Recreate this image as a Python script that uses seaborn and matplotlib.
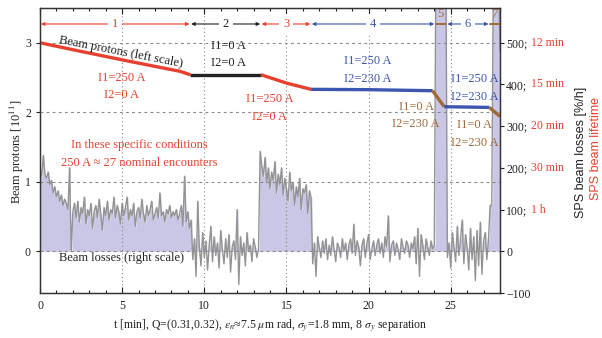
# Beam protons and SPS beam losses during the wire compensation test
import matplotlib
matplotlib.use("Agg")
import matplotlib.pyplot as plt
from matplotlib.ticker import MultipleLocator
import numpy as np
import pandas as pd
import seaborn as sns

# SPS beam losses [%/h], one value every 0.1 min, per segment
loss_seg1 = [195, 180, 230, 185, 175, 190, 160, 170, 140, 155,
             130, 145, 120, 135, 110, 125, 115, 100, 200, 0,
             95, 115, 80, 120, 70, 105, 90, 130, 65, 100,
             85, 115, 55, 95, 110, 80, 125, 90, 50, 105,
             85, 120, 75, 100, 90, 130, 80, 110, 95, 65,
             115, 85, 105, 130, 75, 100, 85, 115, 60, 95,
             105, 80, 125, 90, 70, 110, 85, 100, 120, 75,
             90, 105, 80, 140, 85, 95, 70, 100, 90, 110,
             80, 95, 85, 100, 75, 90, 110, 60, 180, 70,
             95, 55, 75]
loss_seg2 = [-20, 30, -60, 120, 10, -35, 45, -15, 25, -45,
             15, 60, -25, 35, -10, 20, -40, 50, 5, -30,
             30, -15, 40, -50, 10, 25, -20, 100, -80, 35,
             -10, 20, -35, 45, 0, 15, -25, 30, 10, -15,
             5]
loss_seg3 = [240, 205, 180, 225, 165, 200, 150, 190, 170, 215,
             140, 185, 160, 200, 135, 175, 150, 120, 190, 145,
             165, 110, 155, 130, 175, 100, 150, 140, 160, 90,
             145, 130]
loss_seg4 = [-30, 20, -60, 35, 10, -15, 25, -5, 30, -20,
             15, -10, 35, 5, -25, 20, 10, -15, 30, 0,
             20, -20, 15, 30, -5, 65, -10, 25, 10, -35,
             15, 30, -15, 20, 40, -20, 5, 25, -10, 15,
             30, -5, 20, -15, 35, 10, 85, -25, 15, 25,
             -10, 20, 5, -20, 30, 10, -5, 25, 15, -15,
             20, 5, 35, -30, 55, -60, 40, 15, -20, 30,
             10, -10, 25, 5, 15]
loss_seg5 = [700, 700, 700, 700, 700, 700, 700]
loss_seg6 = [-15, 20, -40, 45, 10, -25, 60, -10, 30, 75,
             -30, 40, 10, -45, 55, -20, 35, -70, 50, -35,
             70, -55, 25, 45, -20, 30]
loss_seg7 = [110, 110, 700, 700, 700, 700, 480]

# beam protons [1e11], per segment
prot_t1 = [0, 2.4, 5.5, 8.5, 9.15]
prot_v1 = [3.0, 2.88, 2.73, 2.59, 2.54]
prot_t2 = [9.15, 13.45]
prot_v2 = [2.54, 2.54]
prot_t3 = [13.45, 15.0, 16.5]
prot_v3 = [2.54, 2.42, 2.33]
prot_t4 = [16.5, 20.0, 23.9]
prot_v4 = [2.33, 2.325, 2.31]
prot_t5 = [23.9, 24.6]
prot_v5 = [2.31, 2.08]
prot_t6 = [24.6, 27.35]
prot_v6 = [2.08, 2.07]
prot_t7 = [27.35, 28.0]
prot_v7 = [2.07, 1.94]

seg_start = [0, 9.15, 13.45, 16.5, 24.05, 24.75, 27.35]
seg_end = [9.15, 13.45, 16.5, 24.05, 24.75, 27.35, 28.0]
seg_label = ["1", "2", "3", "4", "5", "6", "7"]

right_ticks = [-100, 0, 100, 200, 300, 400, 500]
right_labels = ["\u2212100", "0", "100;", "200;", "300;", "400;", "500;"]
lifetime_labels = ["", "", "1 h", "30 min", "20 min", "15 min", "12 min"]

RED = "#e8402f"
BLUE = "#3c56b0"
BROWN = "#a0693a"
BLACK = "#222222"
LAV = "#c9c7e5"
GRAY = "#939393"
seg_color = [RED, BLACK, RED, BLUE, BROWN, BLUE, BROWN]

sns.set_style("ticks")
plt.rcParams["font.family"] = ["Liberation Serif", "DejaVu Serif"]
plt.rcParams["mathtext.fontset"] = "stix"

loss = np.array(loss_seg1 + loss_seg2 + loss_seg3 + loss_seg4
                + loss_seg5 + loss_seg6 + loss_seg7, dtype=float)
t_loss = np.arange(len(loss)) * 0.1
loss_df = pd.DataFrame({"t": t_loss, "loss": loss})

fig = plt.figure(figsize=(6.02, 3.38), dpi=100)
ax = fig.add_axes([40 / 602, 45 / 338, 460 / 602, 285 / 338])
ax2 = ax.twinx()

# losses on the right scale
ax2.fill_between(t_loss, 0, np.clip(loss, 0, None), step="mid", color=LAV, lw=0)
sns.lineplot(data=loss_df, x="t", y="loss", ax=ax2, color=GRAY, lw=1.0)

# protons on the left scale, drawn above
ax.set_zorder(ax2.get_zorder() + 1)
ax.patch.set_visible(False)
prot = [(prot_t1, prot_v1, RED), (prot_t2, prot_v2, BLACK), (prot_t3, prot_v3, RED),
        (prot_t4, prot_v4, BLUE), (prot_t5, prot_v5, BROWN), (prot_t6, prot_v6, BLUE),
        (prot_t7, prot_v7, BROWN)]
for tt, vv, c in prot:
    sns.lineplot(x=tt, y=vv, ax=ax, color=c, lw=2.4, solid_capstyle="butt")

ax.set_xlim(0, 28)
ax.set_ylim(-0.6, 3.5)
ax2.set_ylim(-100, 3.5 * 500 / 3)

# grid
for x in [5, 10, 15, 20, 25]:
    ax.axvline(x, color="#888888", lw=0.8, ls=(0, (1, 2.5)), zorder=0.5)
for y in [0, 1, 2, 3]:
    ax.axhline(y, color="#888888", lw=0.8, ls=(0, (2.5, 3)), zorder=0.5)

# segment arrows
for s, e, lab, c in zip(seg_start, seg_end, seg_label, seg_color):
    if e - s > 1:
        ax.annotate("", xy=(e - 0.05, 3.27), xytext=(s + 0.05, 3.27),
                    arrowprops=dict(arrowstyle="<|-|>", color=c, lw=0.8,
                                    mutation_scale=5, shrinkA=0, shrinkB=0))
        ax.text((s + e) / 2, 3.27, lab, color=c, fontsize=9, ha="center", va="center",
                bbox=dict(boxstyle="square,pad=0.3", fc="white", ec="none"))
    else:
        ax.plot([s + 0.05, e - 0.05], [3.27, 3.27], color=c, lw=1.4)
        ax.text((s + e) / 2, 3.42, lab, color=c, fontsize=9, ha="center", va="center")

fs = 9
ax.text(4.9, 2.86, "Beam protons (left scale)", rotation=-11, fontsize=fs,
        ha="center", va="center", color=BLACK)
ax.text(4.97, 2.37, "I1=250 A\nI2=0 A", color=RED, fontsize=fs, ha="center",
        va="center", linespacing=1.6)
ax.text(11.5, 2.83, "I1=0 A\nI2=0 A", color=BLACK, fontsize=fs, ha="center",
        va="center", linespacing=1.6)
ax.text(14.0, 2.06, "I1=250 A\nI2=0 A", color=RED, fontsize=fs, ha="center",
        va="center", linespacing=1.6)
ax.text(6.05, 1.40, "In these specific conditions\n250 A \u2248 27 nominal encounters",
        color=RED, fontsize=fs, ha="center", va="center", linespacing=1.6)
ax.text(19.95, 2.61, "I1=250 A\nI2=230 A", color=BLUE, fontsize=fs, ha="center",
        va="center", linespacing=1.6)
ax.text(22.9, 1.95, "I1=0 A\nI2=230 A", color=BROWN, fontsize=fs, ha="center",
        va="center", linespacing=1.6)
ax.text(26.45, 2.35, "I1=250 A\nI2=230 A", color=BLUE, fontsize=fs, ha="center",
        va="center", linespacing=1.6)
ax.text(26.45, 1.69, "I1=0 A\nI2=230 A", color=BROWN, fontsize=fs, ha="center",
        va="center", linespacing=1.6)
ax.text(4.97, -0.09, "Beam losses (right scale)", color=BLACK, fontsize=fs,
        ha="center", va="center")

# ticks
ax.set_xticks([0, 5, 10, 15, 20, 25])
ax.xaxis.set_minor_locator(MultipleLocator(1))
ax.set_yticks([0, 1, 2, 3])
ax.tick_params(axis="x", which="both", direction="in", top=True, bottom=True,
               labelsize=8.5, colors=BLACK, pad=5)
ax.tick_params(axis="x", which="major", length=4, width=0.8)
ax.tick_params(axis="x", which="minor", length=2.5, width=0.8)
ax.tick_params(axis="y", direction="out", length=3, width=0.8, labelsize=8.5,
               colors=BLACK, right=False)
ax2.set_yticks(right_ticks)
ax2.set_yticklabels(right_labels)
ax2.tick_params(axis="y", direction="out", length=3, width=0.8, labelsize=8.5,
                colors=BLACK, pad=1.5)
ax2.set_ylabel("")
ax.set_ylabel("")
ax.set_xlabel("")
for v, lab in zip(right_ticks, lifetime_labels):
    if lab:
        ax2.annotate(lab, xy=(1, v), xycoords=ax2.get_yaxis_transform(),
                     xytext=(22.3, 0), textcoords="offset points", color=RED,
                     fontsize=8.5, va="center", ha="left")

for a in (ax, ax2):
    for sp in a.spines.values():
        sp.set_color("#333333")
        sp.set_linewidth(0.9)

fig.text(17 / 602, 1 - 152 / 338, "Beam protons [10$^{11}$]", rotation=90,
         ha="center", va="center", fontsize=9, color=BLACK)
fig.text(581 / 602, 1 - 152 / 338, "SPS beam losses [%/h]", rotation=90,
         ha="center", va="center", fontsize=9, color=BLACK,
         family=["Liberation Sans", "DejaVu Sans"])
fig.text(596 / 602, 1 - 148 / 338, "SPS beam lifetime", rotation=90,
         ha="center", va="center", fontsize=9, color=RED,
         family=["Liberation Sans", "DejaVu Sans"])
fig.text(270 / 602, 1 - 325 / 338,
         "t [min], Q=(0.31,0.32), $\\epsilon_n$\u22487.5 $\\mu$m rad, "
         "$\\sigma_y$=1.8 mm, 8 $\\sigma_y$ separation",
         ha="center", va="center", fontsize=8.5, color=BLACK)

fig.savefig("out.png", dpi=100)
